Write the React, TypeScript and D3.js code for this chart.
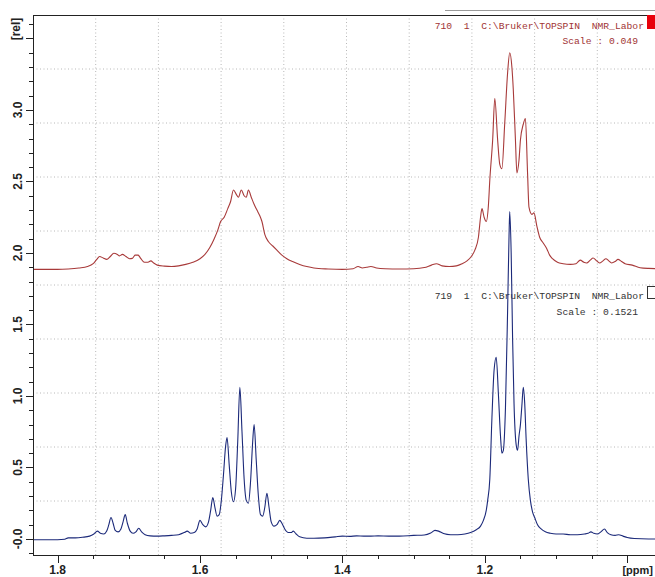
import React, { useEffect, useRef } from "react";
import * as d3 from "d3";

// spectrum 710 (top, red) : [ppm, rel]
const redTrace: [number, number][] = [
  [1.834, 1.885], [1.8, 1.885], [1.785, 1.888], [1.77, 1.895], [1.758, 1.905], [1.75, 1.925],
  [1.745, 1.955], [1.741, 1.975], [1.736, 1.965], [1.731, 1.955], [1.726, 1.975], [1.721, 1.998],
  [1.716, 1.99], [1.713, 1.98], [1.709, 1.99], [1.704, 1.975], [1.699, 1.96], [1.695, 1.962],
  [1.691, 1.985], [1.687, 1.985], [1.683, 1.96], [1.678, 1.935], [1.673, 1.935], [1.669, 1.945],
  [1.665, 1.93], [1.66, 1.915], [1.65, 1.908], [1.64, 1.905], [1.63, 1.91], [1.62, 1.92],
  [1.61, 1.935], [1.6, 1.96], [1.593, 1.99], [1.586, 2.04], [1.58, 2.1], [1.575, 2.16],
  [1.571, 2.22], [1.566, 2.25], [1.561, 2.31], [1.557, 2.36], [1.553, 2.44], [1.549, 2.41],
  [1.546, 2.39], [1.542, 2.44], [1.538, 2.4], [1.535, 2.39], [1.532, 2.44], [1.528, 2.39],
  [1.524, 2.34], [1.52, 2.3], [1.516, 2.26], [1.513, 2.22], [1.509, 2.13], [1.504, 2.08],
  [1.498, 2.05], [1.492, 2.02], [1.485, 1.985], [1.478, 1.96], [1.47, 1.94], [1.46, 1.92],
  [1.45, 1.905], [1.44, 1.895], [1.42, 1.888], [1.4, 1.885], [1.385, 1.89], [1.378, 1.905],
  [1.372, 1.895], [1.366, 1.9], [1.36, 1.905], [1.352, 1.895], [1.34, 1.89], [1.32, 1.888],
  [1.3, 1.89], [1.285, 1.898], [1.275, 1.915], [1.268, 1.925], [1.26, 1.91], [1.25, 1.905],
  [1.24, 1.91], [1.232, 1.925], [1.225, 1.945], [1.219, 1.975], [1.214, 2.02], [1.209, 2.11],
  [1.206, 2.25], [1.204, 2.31], [1.201, 2.25], [1.198, 2.22], [1.195, 2.33], [1.193, 2.51],
  [1.189, 2.79], [1.186, 3.08], [1.182, 2.79], [1.179, 2.62], [1.176, 2.59], [1.172, 2.91],
  [1.168, 3.26], [1.165, 3.4], [1.162, 3.3], [1.16, 3.14], [1.157, 2.79], [1.155, 2.56],
  [1.152, 2.65], [1.15, 2.79], [1.146, 2.9], [1.143, 2.94], [1.14, 2.56], [1.138, 2.32],
  [1.134, 2.27], [1.131, 2.28], [1.127, 2.19], [1.123, 2.11], [1.118, 2.07], [1.113, 2.03],
  [1.109, 1.985], [1.105, 1.96], [1.098, 1.935], [1.09, 1.925], [1.08, 1.92], [1.072, 1.925],
  [1.066, 1.95], [1.061, 1.935], [1.057, 1.93], [1.052, 1.95], [1.048, 1.965], [1.043, 1.945],
  [1.039, 1.93], [1.034, 1.945], [1.03, 1.96], [1.026, 1.945], [1.022, 1.93], [1.017, 1.94],
  [1.013, 1.955], [1.008, 1.94], [1.003, 1.925], [0.993, 1.915], [0.982, 1.897], [0.97, 1.892],
  [0.954, 1.89],
];

// spectrum 719 (bottom, blue) : [ppm, rel]
const blueTrace: [number, number][] = [
  [1.834, -0.005], [1.8, -0.005], [1.79, -0.002], [1.785, 0.008], [1.775, 0.008], [1.765, 0.012],
  [1.755, 0.02], [1.749, 0.035], [1.744, 0.055], [1.74, 0.04], [1.735, 0.035], [1.731, 0.055],
  [1.728, 0.1], [1.725, 0.15], [1.722, 0.11], [1.719, 0.06], [1.715, 0.05], [1.711, 0.07],
  [1.708, 0.12], [1.705, 0.17], [1.702, 0.11], [1.698, 0.055], [1.694, 0.04], [1.69, 0.05],
  [1.686, 0.075], [1.682, 0.05], [1.677, 0.03], [1.67, 0.022], [1.66, 0.02], [1.65, 0.022],
  [1.64, 0.025], [1.63, 0.03], [1.622, 0.045], [1.618, 0.055], [1.613, 0.04], [1.608, 0.045],
  [1.604, 0.07], [1.6, 0.13], [1.596, 0.1], [1.592, 0.085], [1.588, 0.12], [1.585, 0.2],
  [1.582, 0.29], [1.579, 0.22], [1.576, 0.16], [1.573, 0.17], [1.57, 0.27], [1.567, 0.45],
  [1.564, 0.65], [1.562, 0.71], [1.559, 0.52], [1.556, 0.33], [1.553, 0.26], [1.55, 0.35],
  [1.547, 0.68], [1.544, 1.06], [1.541, 0.75], [1.538, 0.42], [1.535, 0.27], [1.532, 0.25],
  [1.529, 0.4], [1.526, 0.68], [1.524, 0.8], [1.521, 0.55], [1.518, 0.3], [1.515, 0.17],
  [1.512, 0.16], [1.509, 0.22], [1.506, 0.32], [1.503, 0.22], [1.5, 0.12], [1.496, 0.09],
  [1.492, 0.1], [1.488, 0.13], [1.485, 0.11], [1.481, 0.07], [1.476, 0.045], [1.472, 0.045],
  [1.469, 0.055], [1.465, 0.035], [1.46, 0.015], [1.45, 0.005], [1.44, 0.005], [1.425, 0.008],
  [1.41, 0.015], [1.4, 0.02], [1.39, 0.018], [1.38, 0.022], [1.37, 0.02], [1.36, 0.02],
  [1.35, 0.022], [1.335, 0.02], [1.32, 0.02], [1.3, 0.025], [1.285, 0.028], [1.276, 0.042],
  [1.27, 0.06], [1.265, 0.055], [1.258, 0.038], [1.248, 0.03], [1.238, 0.03], [1.228, 0.035],
  [1.22, 0.045], [1.212, 0.065], [1.206, 0.09], [1.202, 0.13], [1.198, 0.2], [1.196, 0.27],
  [1.193, 0.42], [1.19, 0.85], [1.187, 1.18], [1.184, 1.27], [1.181, 1.02], [1.178, 0.72],
  [1.176, 0.6], [1.174, 0.62], [1.171, 0.92], [1.168, 1.6], [1.166, 2.12], [1.165, 2.29],
  [1.163, 2.0], [1.161, 1.4], [1.159, 0.95], [1.156, 0.66], [1.154, 0.62], [1.152, 0.72],
  [1.15, 0.8], [1.148, 0.93], [1.146, 1.06], [1.144, 0.95], [1.142, 0.7], [1.139, 0.42],
  [1.136, 0.27], [1.133, 0.19], [1.13, 0.15], [1.126, 0.1], [1.121, 0.07], [1.115, 0.05],
  [1.108, 0.04], [1.1, 0.035], [1.09, 0.035], [1.08, 0.03], [1.07, 0.03], [1.06, 0.035],
  [1.055, 0.04], [1.051, 0.05], [1.047, 0.04], [1.042, 0.035], [1.037, 0.05], [1.032, 0.07],
  [1.028, 0.045], [1.023, 0.03], [1.017, 0.025], [1.012, 0.03], [1.006, 0.02], [1.0, 0.01],
  [0.99, 0.003], [0.97, 0.0], [0.954, 0.0],
];

const xMajor = [1.8, 1.6, 1.4, 1.2, 1.0];
const yMajor = [0, 0.5, 1.0, 1.5, 2.0, 2.5, 3.0, 3.5];
const redLabel = ["710  1  C:\\Bruker\\TOPSPIN  NMR_Labor", "Scale : 0.049"];
const blueLabel = ["719  1  C:\\Bruker\\TOPSPIN  NMR_Labor", "Scale : 0.1521"];

const W = 655;
const H = 577;
const L = 33, T = 15, R = 660, B = 555;

export default function App() {
  const ref = useRef<SVGSVGElement>(null);

  useEffect(() => {
    const svg = d3.select(ref.current);
    svg.selectAll("*").remove();

    const x = d3.scaleLinear().domain([1.8345, 0.954]).range([L, R]);
    const y = d3.scaleLinear().domain([-0.112, 3.664]).range([B, T]);

    svg.append("rect").attr("width", W).attr("height", H).attr("fill", "#fff");

    // topspin grid: 10 divisions each way
    const grid = svg.append("g").attr("stroke", "#b8b8b8").attr("stroke-dasharray", "1,2.5");
    d3.range(1, 10).forEach((i) => {
      const gx = L + ((R - L) * i) / 10;
      const gy = T + ((B - T) * i) / 10;
      grid.append("line").attr("x1", gx).attr("x2", gx).attr("y1", T).attr("y2", B);
      grid.append("line").attr("x1", L).attr("x2", R).attr("y1", gy).attr("y2", gy);
    });

    // frame
    svg.append("line").attr("x1", 445).attr("x2", W).attr("y1", 10.5).attr("y2", 10.5).attr("stroke", "#9a9a9a");
    svg.append("line").attr("x1", L).attr("x2", W).attr("y1", T + 0.5).attr("y2", T + 0.5).attr("stroke", "#222");
    svg.append("line").attr("x1", L + 0.5).attr("x2", L + 0.5).attr("y1", T).attr("y2", B).attr("stroke", "#222");
    svg.append("line").attr("x1", L).attr("x2", W).attr("y1", B + 0.5).attr("y2", B + 0.5).attr("stroke", "#222");

    const tickFont = "'Liberation Sans', Arial, sans-serif";

    // y axis
    const yMinor = d3.range(-1, 37).map((k) => k / 10);
    svg.append("g").selectAll("line").data(yMinor).join("line")
      .attr("x1", (d) => (yMajor.some((m) => Math.abs(m - d) < 1e-6) ? L - 7 : L - 4))
      .attr("x2", L)
      .attr("y1", (d) => Math.round(y(d)) + 0.5).attr("y2", (d) => Math.round(y(d)) + 0.5)
      .attr("stroke", "#222");

    svg.append("g").selectAll("text").data(yMajor.filter((d) => d < 3.4)).join("text")
      .attr("transform", (d) => `translate(18,${y(d)}) rotate(-90)`)
      .attr("text-anchor", "middle").attr("dy", "0.35em")
      .style("font", `bold 12px ${tickFont}`).attr("fill", "#222")
      .text((d) => (d === 0 ? "-0.0" : d3.format(".1f")(d)));

    svg.append("text").attr("transform", "translate(16,29) rotate(-90)")
      .attr("text-anchor", "middle").attr("dy", "0.35em")
      .style("font", `bold 12px ${tickFont}`).attr("fill", "#222").text("[rel]");

    // x axis
    const xMinor = d3.range(0, 18).map((k) => 1.8 - k * 0.05);
    svg.append("g").selectAll("line").data(xMinor).join("line")
      .attr("x1", (d) => Math.round(x(d)) + 0.5).attr("x2", (d) => Math.round(x(d)) + 0.5)
      .attr("y1", B)
      .attr("y2", (d) => (xMajor.some((m) => Math.abs(m - d) < 1e-6) ? B + 8 : B + 4))
      .attr("stroke", "#222");

    svg.append("g").selectAll("text").data(xMajor.filter((d) => d > 1.05)).join("text")
      .attr("x", (d) => x(d)).attr("y", 574).attr("text-anchor", "middle")
      .style("font", `bold 12px ${tickFont}`).attr("fill", "#222")
      .text((d) => d3.format(".1f")(d));
    svg.append("text").attr("x", 653).attr("y", 574).attr("text-anchor", "end")
      .style("font", `bold 11px ${tickFont}`).attr("fill", "#222").text("[ppm]");

    // labels
    const mono = "'Liberation Mono', 'Courier New', monospace";
    const addLabel = (lines: string[], y0: number, color: string) => {
      svg.append("text").attr("x", 644).attr("y", y0).attr("text-anchor", "end")
        .style("font", `9.7px ${mono}`).style("white-space", "pre").attr("fill", color).text(lines[0]);
      svg.append("text").attr("x", 638).attr("y", y0 + 15.5).attr("text-anchor", "end")
        .style("font", `9.7px ${mono}`).style("white-space", "pre").attr("fill", color).text(lines[1]);
    };
    addLabel(redLabel, 28.5, "#a13434");
    svg.append("rect").attr("x", 647).attr("y", 15).attr("width", 10).attr("height", 14).attr("fill", "#e8000b");
    addLabel(blueLabel, 299, "#333");
    svg.append("rect").attr("x", 647.5).attr("y", 286.5).attr("width", 12).attr("height", 12)
      .attr("fill", "#fff").attr("stroke", "#333");

    // spectra
    svg.append("clipPath").attr("id", "plotclip").append("rect")
      .attr("x", L + 1).attr("y", T + 1).attr("width", R - L).attr("height", B - T - 1);

    const line = d3.line<[number, number]>()
      .x((d) => x(d[0])).y((d) => y(d[1]))
      .curve(d3.curveMonotoneX);

    svg.append("path").datum(redTrace).attr("clip-path", "url(#plotclip)")
      .attr("d", line).attr("fill", "none").attr("stroke", "#a83a3a").attr("stroke-width", 1.1);
    svg.append("path").datum(blueTrace).attr("clip-path", "url(#plotclip)")
      .attr("d", line).attr("fill", "none").attr("stroke", "#1c2a7a").attr("stroke-width", 1.1);
  }, []);

  return (
    <svg
      ref={ref}
      width={W}
      height={H}
      style={{ position: "absolute", left: 0, top: 0, display: "block" }}
    />
  );
}
